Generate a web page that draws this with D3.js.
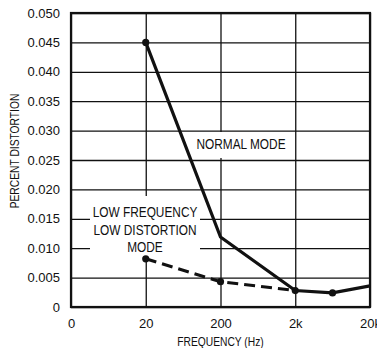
<!DOCTYPE html>
<html>
<head>
<meta charset="utf-8">
<script src="https://cdn.jsdelivr.net/npm/d3@7"></script>
<style>
body{margin:0;background:#fff;}
svg{display:block;}
.tick text{font-family:"Liberation Sans",Arial,sans-serif;font-size:13px;fill:#111;}
.domain{display:none;}
.grid line{stroke:#111;stroke-width:1.3;}
.note{font-family:"Liberation Sans",Arial,sans-serif;font-size:15px;fill:#111;}
.label{font-family:"Liberation Sans",Arial,sans-serif;font-size:13px;fill:#111;}
</style>
</head>
<body>
<svg></svg>
<script>
// values
var xTickValues = [2,20,200,2000,20000]
var xTickLabels = ["0","20","200","2k","20k"]
var yTickValues = [0,0.005,0.010,0.015,0.020,0.025,0.030,0.035,0.040,0.045,0.050]
var normalFreq = [20,200,2000,6300,20000]
var normalPct = [0.045,0.0119,0.0028,0.0024,0.0036]
var lowFreq = [20,200,2000]
var lowPct = [0.0082,0.0043,0.0028]
var normalDots = [0,2,3]
var lowDots = [0,1]

var screen = {width:377,height:348}
var margins = {left:71,right:7,top:13,bottom:41}
var graph = {
    width:screen.width-margins.left-margins.right,
    height:screen.height-margins.top-margins.bottom
}

// squeeze text to a condensed look (no narrow font installed)
var narrow = function(sel)
{
    sel.each(function(){
        var len = this.getComputedTextLength()
        d3.select(this)
            .attr("textLength",len*0.79)
            .attr("lengthAdjust","spacingAndGlyphs")
    })
}

var svg = d3.select("svg")
    .attr("width",screen.width)
    .attr("height",screen.height)

var xScale = d3.scaleLog()
    .domain([2,20000])
    .range([0,graph.width])
var yScale = d3.scaleLinear()
    .domain([0,0.05])
    .range([graph.height,0])

var target = svg.append("g")
    .attr("transform","translate("+margins.left+","+margins.top+")")

// gridlines + tick labels
target.append("g")
    .attr("class","grid")
    .call(d3.axisLeft(yScale)
        .tickValues(yTickValues)
        .tickSize(-graph.width)
        .tickPadding(11)
        .tickFormat(function(d){ return d==0 ? "0" : d3.format(".3f")(d) }))

target.append("g")
    .attr("class","grid")
    .attr("transform","translate(0,"+graph.height+")")
    .call(d3.axisBottom(xScale)
        .tickValues(xTickValues)
        .tickSize(-graph.height)
        .tickPadding(12)
        .tickFormat(function(d,i){ return xTickLabels[i] }))

// white boxes behind the notes
target.append("rect")
    .attr("x",19).attr("y",183)
    .attr("width",110).attr("height",60)
    .attr("fill","#fff")
target.append("rect")
    .attr("x",119).attr("y",119)
    .attr("width",102).attr("height",26)
    .attr("fill","#fff")

// frame
target.append("rect")
    .attr("width",graph.width)
    .attr("height",graph.height)
    .attr("fill","none")
    .attr("stroke","#111")
    .attr("stroke-width",2.2)

var line = d3.line()
    .x(function(d){ return xScale(d[0]) })
    .y(function(d){ return yScale(d[1]) })

var normalData = normalFreq.map(function(f,i){ return [f,normalPct[i]] })
var lowData = lowFreq.map(function(f,i){ return [f,lowPct[i]] })

target.append("path")
    .datum(lowData)
    .attr("d",line)
    .attr("fill","none")
    .attr("stroke","#111")
    .attr("stroke-width",3)
    .attr("stroke-dasharray","11,6")

target.append("path")
    .datum(normalData)
    .attr("d",line)
    .attr("fill","none")
    .attr("stroke","#111")
    .attr("stroke-width",3.2)

var dots = normalDots.map(function(i){ return normalData[i] })
    .concat(lowDots.map(function(i){ return lowData[i] }))

target.selectAll("circle")
    .data(dots)
    .enter()
    .append("circle")
    .attr("cx",function(d){ return xScale(d[0]) })
    .attr("cy",function(d){ return yScale(d[1]) })
    .attr("r",3.6)
    .attr("fill","#111")

// notes
target.append("text")
    .attr("class","note")
    .attr("x",170).attr("y",136)
    .attr("text-anchor","middle")
    .text("NORMAL MODE")
    .call(narrow)

var lowNote = ["LOW FREQUENCY","LOW DISTORTION","MODE"]
target.selectAll(".lownote")
    .data(lowNote)
    .enter()
    .append("text")
    .attr("class","note lownote")
    .attr("x",74)
    .attr("y",function(d,i){ return 204+i*17.5 })
    .attr("text-anchor","middle")
    .text(function(d){ return d })
    .call(narrow)

// axis titles
svg.append("text")
    .attr("class","label")
    .attr("text-anchor","middle")
    .attr("x",margins.left+graph.width/2)
    .attr("y",346)
    .text("FREQUENCY (Hz)")
    .call(narrow)

svg.append("g")
    .attr("transform","translate(19,151)")
    .append("text")
    .attr("class","label")
    .attr("text-anchor","middle")
    .attr("transform","rotate(270)")
    .text("PERCENT DISTORTION")
    .call(narrow)
</script>
</body>
</html>
